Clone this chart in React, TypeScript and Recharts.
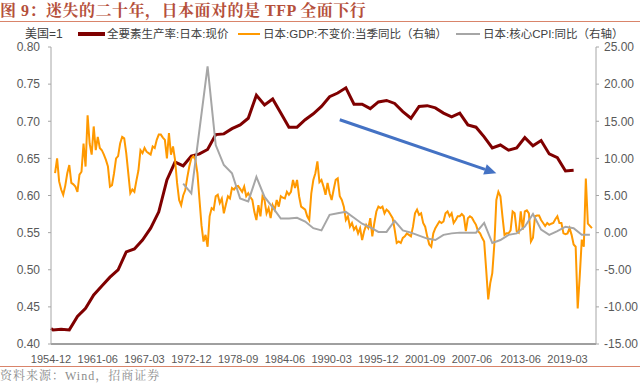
import { LineChart, Line, XAxis, YAxis, Legend, ReferenceLine } from "recharts";

// 全要素生产率 (美国=1), year-end values 1954..2019
const TFP_START_YEAR = 1954;
const TFP_VALUES = [
  0.421, 0.419, 0.42, 0.419, 0.437, 0.448, 0.466, 0.478, 0.49, 0.5,
  0.524, 0.528, 0.54, 0.556, 0.578, 0.621, 0.645, 0.64, 0.653, 0.656,
  0.662, 0.682, 0.683, 0.69, 0.695, 0.704, 0.735, 0.722, 0.73, 0.711,
  0.692, 0.692, 0.702, 0.71, 0.72, 0.733, 0.738, 0.745, 0.723, 0.723,
  0.717, 0.726, 0.728, 0.724, 0.713, 0.704, 0.72, 0.721, 0.718, 0.711,
  0.706, 0.711, 0.695, 0.692, 0.679, 0.664, 0.668, 0.661, 0.664, 0.678,
  0.667, 0.674, 0.656, 0.651, 0.633, 0.634,
];

// 核心CPI 同比 (%), year-end values 1971..2021
const CPI_START_YEAR = 1971;
const CPI_VALUES: (number | null)[] = [
  6.6, 5.3, null, 22.4, 11.8, 9.1, 8.0, 4.6, 4.2, 7.5,
  4.8, 3.4, 1.9, 1.9, 2.0, 1.5, 0.6, 0.3, 2.4, 2.6,
  2.8, 2.0, 1.2, 0.7, 0.1, 0.1, 1.6, 0.3, 0.0, -0.4,
  -0.8, -1.0, -0.3, -0.1, 0.0, 0.0, 0.0, 1.3, -1.4, -1.0,
  -0.3, -0.1, 0.8, 2.5, 0.4, -0.3, 0.2, 0.8, 0.6, -0.3,
  -0.3,
];

// GDP 不变价 当季同比 (%), quarterly from 1956-03
const GDP_START_YEAR = 1956;
const GDP_VALUES = [
  8.0, 10.0, 6.9, 5.8, 5.1, 6.3, 8.0, 9.1, 6.7, 6.5,
  6.2, 5.5, 7.8, 8.2, 12.0, 8.9, 15.8, 12.0, 10.5, 14.3,
  11.1, 12.9, 11.4, 11.1, 10.5, 9.8, 8.9, 6.2, 6.4, 8.0,
  10.0, 10.3, 12.0, 12.9, 12.7, 10.7, 8.0, 5.3, 5.8, 5.5,
  7.0, 8.4, 11.1, 10.7, 11.4, 10.9, 10.7, 10.5, 11.6, 11.4,
  12.5, 13.2, 13.2, 12.8, 12.5, 10.0, 13.4, 10.5, 11.6, 9.8,
  6.7, 4.4, 3.7, 5.0, 5.7, 7.4, 8.9, 10.0, 10.3, 9.8,
  8.0, 4.5, 1.0, -1.2, -0.3, -1.9, 2.2, 3.3, 3.1, 4.9,
  5.1, 4.0, 4.6, 2.6, 3.8, 4.9, 4.6, 6.0, 5.8, 6.2,
  6.3, 5.9, 5.5, 6.2, 4.9, 5.3, 4.8, 4.4, 2.8, 1.7,
  3.7, 2.2, 4.9, 4.4, 2.6, 3.3, 1.95, 3.7, 3.1, 4.4,
  3.5, 4.9, 4.7, 4.6, 5.5, 5.1, 5.5, 7.1, 6.0, 7.1,
  4.9, 3.5, 3.3, 3.1, 2.2, 1.7, 5.3, 7.1, 8.0, 9.6,
  6.8, 7.1, 6.2, 5.1, 6.7, 5.3, 4.4, 5.8, 7.1, 7.3,
  4.9, 4.4, 3.5, 1.7, 2.2, 0.8, 1.3, 0.4, 0.8, -0.1,
  0.6, -1.0, 0.2, 1.05, 0.6, 1.95, -0.5, 1.3, 2.85, 3.5,
  3.3, 3.5, 2.6, 3.1, 2.85, 2.4, 1.95, 0.4, -1.4, -1.2,
  -1.4, -0.7, -0.5, -0.1, -0.3, -0.5, 0.8, 2.6, 3.1, 2.4,
  2.6, 1.3, 0.8, -0.5, -1.6, -1.9, -0.1, 0.6, 1.05, 1.5,
  1.3, 1.5, 2.6, 2.85, 2.2, 2.6, 1.3, 1.7, 2.2, 2.2,
  2.5, 2.2, 0.2, 1.95, 2.2, 2.0, 1.5, 1.05, 0.2, -0.1,
  -0.7, -1.2, -5.0, -9.0, -6.8, -5.45, -1.6, 4.4, 5.5, 4.9,
  2.2, -0.3, -0.1, -0.1, 0.3, 2.85, 2.6, 0.2, 0.0, 2.85,
  0.4, 2.85, 3.0, 2.6, -1.2, -0.7, 2.2, 2.3, 2.3, 1.7,
  1.3, 0.9, 1.3, 1.05, 1.2, 1.3, 1.8, 2.2, 1.3, 1.3,
  -0.1, -0.2, -0.1, 0.6, -0.3, -1.6, -1.9, -10.2, -5.9, -0.95,
  -1.9, 7.3, 1.2, 0.9, 0.6,
];

const LEADING_DATES = ["1954-12", "1955-12"];
const LAST_DATE = "2022-09";
const QUARTER_MONTHS = ["03", "06", "09", "12"];

const X_TICKS = [
  "1954-12", "1961-06", "1967-03", "1972-12", "1978-09", "1984-06",
  "1990-03", "1995-12", "2001-09", "2007-06", "2013-06", "2019-03",
];
const LEFT_TICKS = [0.4, 0.45, 0.5, 0.55, 0.6, 0.65, 0.7, 0.75, 0.8];
const RIGHT_TICKS = [-15, -10, -5, 0, 5, 10, 15, 20, 25];

// 趋势箭头 (data units on the left axis)
const ARROW_FROM = { x: "1991-03", y: 0.702 };
const ARROW_TO = { x: "2010-06", y: 0.63 };

const TITLE = "图 9：迷失的二十年，日本面对的是 TFP 全面下行";
const SOURCE = "资料来源：Wind，招商证券";

const TFP_NAME = "全要素生产率:日本:现价";
const GDP_NAME = "日本:GDP:不变价:当季同比（右轴）";
const CPI_NAME = "日本:核心CPI:同比（右轴）";

const TFP_COLOR = "#7F0000";
const GDP_COLOR = "#FF9900";
const CPI_COLOR = "#A6A6A6";
const ARROW_COLOR = "#4472C4";
const TITLE_COLOR = "#B5503B";
const RULE_COLOR = "#D9846A";

const SANS = '"Liberation Sans", Arial, "Noto Sans CJK SC", sans-serif';
const SERIF = '"Liberation Serif", "Noto Serif CJK SC", "Noto Sans CJK SC", serif';

function buildCategories() {
  const dates = [...LEADING_DATES];
  for (let y = GDP_START_YEAR; ; y++) {
    for (const m of QUARTER_MONTHS) {
      const d = `${y}-${m}`;
      dates.push(d);
      if (d === LAST_DATE) return dates;
    }
  }
}

const data = buildCategories().map((date, i) => {
  const year = Number(date.slice(0, 4));
  const isYearEnd = date.endsWith("-12");
  const tfp = isYearEnd ? TFP_VALUES[year - TFP_START_YEAR] : undefined;
  const cpi = isYearEnd ? CPI_VALUES[year - CPI_START_YEAR] : undefined;
  const gdp = i >= LEADING_DATES.length ? GDP_VALUES[i - LEADING_DATES.length] : undefined;
  return {
    date,
    tfp: tfp ?? null,
    cpi: cpi ?? null,
    gdp: gdp ?? null,
  };
});

const LEGEND_ITEMS = [
  { name: TFP_NAME, color: TFP_COLOR, swatchLeft: 78, swatchWidth: 27, thick: 3.5, textLeft: 107 },
  { name: GDP_NAME, color: GDP_COLOR, swatchLeft: 238, swatchWidth: 22, thick: 2.5, textLeft: 263 },
  { name: CPI_NAME, color: CPI_COLOR, swatchLeft: 456, swatchWidth: 24, thick: 2.5, textLeft: 483 },
];

function ChartLegend() {
  return (
    <div
      style={{
        position: "relative",
        width: 640,
        height: 16,
        fontFamily: SANS,
        fontSize: 11.5,
        color: "#404040",
        lineHeight: "16px",
      }}
    >
      <span style={{ position: "absolute", left: 25, top: 0, fontSize: 12 }}>美国=1</span>
      {LEGEND_ITEMS.map((item) => (
        <span key={item.name}>
          <span
            style={{
              position: "absolute",
              left: item.swatchLeft,
              top: 8 - item.thick / 2,
              width: item.swatchWidth,
              height: item.thick,
              background: item.color,
            }}
          />
          <span style={{ position: "absolute", left: item.textLeft, top: 0, whiteSpace: "nowrap" }}>
            {item.name}
          </span>
        </span>
      ))}
    </div>
  );
}

function TrendArrow(props: any) {
  const { x1, y1, x2, y2 } = props;
  const angle = Math.atan2(y2 - y1, x2 - x1);
  const head = 12;
  const half = 5.5;
  const bx = x2 - head * Math.cos(angle);
  const by = y2 - head * Math.sin(angle);
  const px = -Math.sin(angle) * half;
  const py = Math.cos(angle) * half;
  return (
    <g>
      <line x1={x1} y1={y1} x2={bx} y2={by} stroke={ARROW_COLOR} strokeWidth={3} />
      <polygon
        points={`${x2},${y2} ${bx + px},${by + py} ${bx - px},${by - py}`}
        fill={ARROW_COLOR}
      />
    </g>
  );
}

export default function App() {
  const tick = { fill: "#595959", fontSize: 12, fontFamily: SANS };
  return (
    <div style={{ position: "relative", width: 640, height: 386, background: "#fff", overflow: "hidden" }}>
      <style>{"body{margin:0}"}</style>
      <div
        style={{
          position: "absolute",
          left: 0,
          top: 2,
          fontFamily: SERIF,
          fontWeight: 700,
          fontSize: 16,
          letterSpacing: 0.5,
          color: TITLE_COLOR,
          whiteSpace: "nowrap",
          lineHeight: "18px",
        }}
      >
        {TITLE}
      </div>
      <div style={{ position: "absolute", left: 0, top: 21, width: 640, height: 1, background: RULE_COLOR }} />

      <LineChart width={640} height={386} data={data} margin={{ top: 47, right: 0, bottom: 12, left: 0 }}>
        <XAxis
          dataKey="date"
          scale="point"
          ticks={X_TICKS}
          interval={0}
          axisLine={{ stroke: "#404040" }}
          tickLine={false}
          tickMargin={5}
          height={30}
          tick={{ ...tick, fontSize: 11 }}
        />
        <YAxis
          yAxisId="left"
          domain={[0.4, 0.8]}
          ticks={LEFT_TICKS}
          width={51}
          axisLine={{ stroke: "#A6A6A6" }}
          tickLine={{ stroke: "#A6A6A6" }}
          tickSize={3}
          tickMargin={8}
          tick={tick}
          tickFormatter={(v: number) => v.toFixed(2)}
        />
        <YAxis
          yAxisId="right"
          orientation="right"
          domain={[-15, 25]}
          ticks={RIGHT_TICKS}
          width={44}
          axisLine={{ stroke: "#A6A6A6" }}
          tickLine={{ stroke: "#A6A6A6" }}
          tickSize={3}
          tickMargin={5}
          tick={tick}
          tickFormatter={(v: number) => v.toFixed(2)}
        />
        <Legend
          layout="horizontal"
          verticalAlign="middle"
          align="center"
          wrapperStyle={{ position: "absolute", top: 26, left: 0, width: 640, height: 16 }}
          content={() => <ChartLegend />}
        />
        <Line
          yAxisId="left"
          type="linear"
          dataKey="tfp"
          name={TFP_NAME}
          stroke={TFP_COLOR}
          strokeWidth={3}
          dot={false}
          connectNulls
          isAnimationActive={false}
        />
        <Line
          yAxisId="right"
          type="linear"
          dataKey="gdp"
          name={GDP_NAME}
          stroke={GDP_COLOR}
          strokeWidth={2}
          dot={false}
          isAnimationActive={false}
        />
        <Line
          yAxisId="right"
          type="linear"
          dataKey="cpi"
          name={CPI_NAME}
          stroke={CPI_COLOR}
          strokeWidth={2}
          dot={false}
          connectNulls
          isAnimationActive={false}
        />
        <ReferenceLine
          yAxisId="left"
          segment={[ARROW_FROM, ARROW_TO]}
          shape={TrendArrow}
          ifOverflow="visible"
        />
      </LineChart>

      <div style={{ position: "absolute", left: 0, top: 366, width: 640, height: 1, background: RULE_COLOR }} />
      <div
        style={{
          position: "absolute",
          left: 0,
          top: 369,
          fontFamily: SERIF,
          fontSize: 12,
          letterSpacing: 1,
          color: "#8C8C8C",
          whiteSpace: "nowrap",
          lineHeight: "15px",
        }}
      >
        {SOURCE}
      </div>
    </div>
  );
}
